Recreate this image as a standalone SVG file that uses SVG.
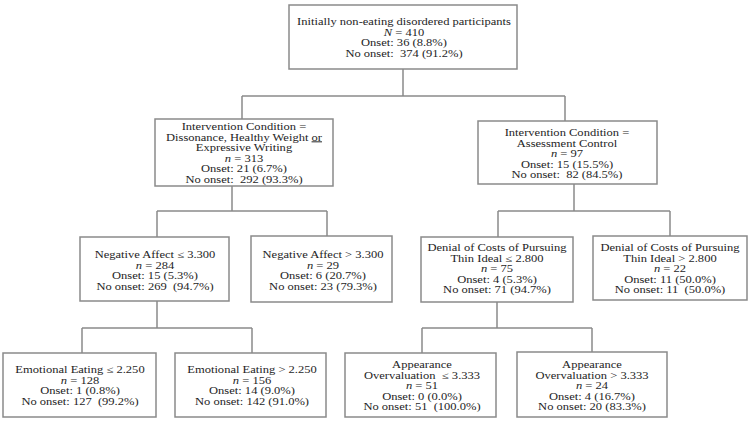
<svg xmlns="http://www.w3.org/2000/svg" width="750" height="421" viewBox="0 0 750 421">
<style>
.box{fill:#fff;stroke:#8a8a8a;stroke-width:1.5}
.ln{fill:none;stroke:#8a8a8a;stroke-width:1.5}
text{font-family:"Liberation Serif","Times New Roman",serif;font-size:9.5px;fill:#1e1e1e;text-anchor:middle;white-space:pre}
.i{font-style:italic}
</style>
<rect width="750" height="421" fill="#fff"/>
<g id="connectors">
<path class="ln" d="M403 69V96M242 96H565M242 96V119M565 96V121"/>
<path class="ln" d="M232 186V211M157 211H327M157 211V237M327 211V236"/>
<path class="ln" d="M574 184V211M498 211H670M498 211V237M670 211V236"/>
<path class="ln" d="M157 301V328M82 328H252M82 328V353M252 328V353"/>
<path class="ln" d="M497 302V328M422 328H592M422 328V353M592 328V352"/>
</g>
<g id="n0"><rect class="box" x="289" y="5" width="228" height="64"/>
<text transform="translate(404,25) scale(1.32,1)">Initially non-eating disordered participants</text>
<text transform="translate(404,35.5) scale(1.32,1)"><tspan class="i">N</tspan> = 410</text>
<text transform="translate(404,46) scale(1.32,1)">Onset: 36 (8.8%)</text>
<text transform="translate(404,56.5) scale(1.32,1)">No onset:  374 (91.2%)</text></g>
<g id="n1"><rect class="box" x="155" y="119" width="178" height="67"/>
<text transform="translate(244,130) scale(1.32,1)">Intervention Condition =</text>
<text transform="translate(244,140.5) scale(1.32,1)">Dissonance, Healthy Weight <tspan text-decoration="underline">or</tspan></text>
<text transform="translate(244,151) scale(1.32,1)">Expressive Writing</text>
<text transform="translate(244,161.5) scale(1.32,1)"><tspan class="i">n</tspan> = 313</text>
<text transform="translate(244,172) scale(1.32,1)">Onset: 21 (6.7%)</text>
<text transform="translate(244,182.5) scale(1.32,1)">No onset:  292 (93.3%)</text></g>
<g id="n2"><rect class="box" x="478" y="121" width="179" height="63"/>
<text transform="translate(567,136) scale(1.32,1)">Intervention Condition =</text>
<text transform="translate(567,146.5) scale(1.32,1)">Assessment Control</text>
<text transform="translate(567,157) scale(1.32,1)"><tspan class="i">n</tspan> = 97</text>
<text transform="translate(567,167.5) scale(1.32,1)">Onset: 15 (15.5%)</text>
<text transform="translate(567,178) scale(1.32,1)">No onset:  82 (84.5%)</text></g>
<g id="n3"><rect class="box" x="80" y="237" width="149" height="64"/>
<text transform="translate(155,258) scale(1.32,1)">Negative Affect ≤ 3.300</text>
<text transform="translate(155,268.5) scale(1.32,1)"><tspan class="i">n</tspan> = 284</text>
<text transform="translate(155,279) scale(1.32,1)">Onset: 15 (5.3%)</text>
<text transform="translate(155,289.5) scale(1.32,1)">No onset: 269  (94.7%)</text></g>
<g id="n4"><rect class="box" x="251" y="236" width="141" height="66"/>
<text transform="translate(323,258) scale(1.32,1)">Negative Affect &gt; 3.300</text>
<text transform="translate(323,268.5) scale(1.32,1)"><tspan class="i">n</tspan> = 29</text>
<text transform="translate(323,279) scale(1.32,1)">Onset: 6 (20.7%)</text>
<text transform="translate(323,289.5) scale(1.32,1)">No onset: 23 (79.3%)</text></g>
<g id="n5"><rect class="box" x="421" y="237" width="152" height="65"/>
<text transform="translate(497,251) scale(1.32,1)">Denial of Costs of Pursuing</text>
<text transform="translate(497,261.5) scale(1.32,1)">Thin Ideal ≤ 2.800</text>
<text transform="translate(497,272) scale(1.32,1)"><tspan class="i">n</tspan> = 75</text>
<text transform="translate(497,282.5) scale(1.32,1)">Onset: 4 (5.3%)</text>
<text transform="translate(497,293) scale(1.32,1)">No onset: 71 (94.7%)</text></g>
<g id="n6"><rect class="box" x="593" y="236" width="154" height="64"/>
<text transform="translate(670,251) scale(1.32,1)">Denial of Costs of Pursuing</text>
<text transform="translate(670,261.5) scale(1.32,1)">Thin Ideal &gt; 2.800</text>
<text transform="translate(670,272) scale(1.32,1)"><tspan class="i">n</tspan> = 22</text>
<text transform="translate(670,282.5) scale(1.32,1)">Onset: 11 (50.0%)</text>
<text transform="translate(670,293) scale(1.32,1)">No onset: 11  (50.0%)</text></g>
<g id="n7"><rect class="box" x="3" y="353" width="153" height="64"/>
<text transform="translate(80,373) scale(1.32,1)">Emotional Eating ≤ 2.250</text>
<text transform="translate(80,383.5) scale(1.32,1)"><tspan class="i">n</tspan> = 128</text>
<text transform="translate(80,394) scale(1.32,1)">Onset: 1 (0.8%)</text>
<text transform="translate(80,404.5) scale(1.32,1)">No onset: 127  (99.2%)</text></g>
<g id="n8"><rect class="box" x="175" y="353" width="151" height="64"/>
<text transform="translate(252,373) scale(1.32,1)">Emotional Eating &gt; 2.250</text>
<text transform="translate(252,383.5) scale(1.32,1)"><tspan class="i">n</tspan> = 156</text>
<text transform="translate(252,394) scale(1.32,1)">Onset: 14 (9.0%)</text>
<text transform="translate(252,404.5) scale(1.32,1)">No onset: 142 (91.0%)</text></g>
<g id="n9"><rect class="box" x="345" y="353" width="151" height="64"/>
<text transform="translate(422,368) scale(1.32,1)">Appearance</text>
<text transform="translate(422,378.5) scale(1.32,1)">Overvaluation  ≤ 3.333</text>
<text transform="translate(422,389) scale(1.32,1)"><tspan class="i">n</tspan> = 51</text>
<text transform="translate(422,399.5) scale(1.32,1)">Onset: 0 (0.0%)</text>
<text transform="translate(422,410) scale(1.32,1)">No onset: 51  (100.0%)</text></g>
<g id="n10"><rect class="box" x="517" y="352" width="150" height="65"/>
<text transform="translate(592,368) scale(1.32,1)">Appearance</text>
<text transform="translate(592,378.5) scale(1.32,1)">Overvaluation &gt; 3.333</text>
<text transform="translate(592,389) scale(1.32,1)"><tspan class="i">n</tspan> = 24</text>
<text transform="translate(592,399.5) scale(1.32,1)">Onset: 4 (16.7%)</text>
<text transform="translate(592,410) scale(1.32,1)">No onset: 20 (83.3%)</text></g>
</svg>
